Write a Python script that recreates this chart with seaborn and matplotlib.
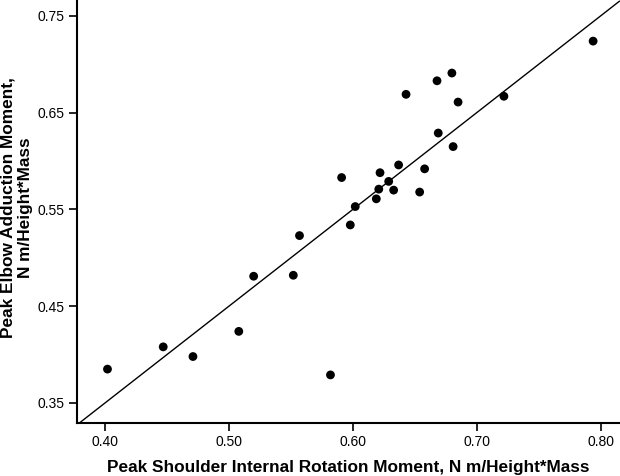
import numpy as np
import pandas as pd
import matplotlib
matplotlib.use("Agg")
import matplotlib.pyplot as plt
import seaborn as sns

shoulder_ir = [0.794, 0.680, 0.668, 0.643, 0.685, 0.722, 0.669, 0.681, 0.591, 0.637,
               0.658, 0.622, 0.629, 0.621, 0.633, 0.654, 0.619, 0.602, 0.598, 0.557,
               0.520, 0.552, 0.508, 0.447, 0.471, 0.402, 0.582]
elbow_add = [0.724, 0.691, 0.683, 0.669, 0.661, 0.667, 0.629, 0.615, 0.583, 0.596,
             0.592, 0.588, 0.579, 0.571, 0.570, 0.568, 0.561, 0.553, 0.534, 0.523,
             0.481, 0.482, 0.424, 0.408, 0.398, 0.385, 0.379]
x_ticks = [0.40, 0.50, 0.60, 0.70, 0.80]
y_ticks = [0.35, 0.45, 0.55, 0.65, 0.75]
fit_intercept = -0.05
fit_slope = 1.0

df = pd.DataFrame({"x": shoulder_ir, "y": elbow_add})

sns.set_style("ticks")
plt.rcParams["font.family"] = ["Liberation Sans", "DejaVu Sans"]

fig = plt.figure(figsize=(6.2, 4.76), dpi=100)
ax = fig.add_axes([77/620, 53/476, 1 - 77/620 - 0.5/620, 1 - 53/476])

sns.scatterplot(data=df, x="x", y="y", ax=ax, s=40, color="black",
                edgecolor="none", linewidth=0, zorder=3)
ax.axline((0, fit_intercept), slope=fit_slope, color="black", linewidth=1.0, zorder=2)

ax.set_xlim(0.3774, 0.8153)
ax.set_ylim(0.3293, 0.7665)
ax.set_xticks(x_ticks)
ax.set_xticklabels([f"{v:.2f}" for v in x_ticks])
ax.set_yticks(y_ticks)
ax.set_yticklabels([f"{v:.2f}" for v in y_ticks])
ax.tick_params(axis="both", labelsize=10, length=6, width=1.2, color="black",
               labelcolor="black", pad=3)
for side in ["top", "right"]:
    ax.spines[side].set_visible(False)
for side in ["left", "bottom"]:
    ax.spines[side].set_color("black")
    ax.spines[side].set_linewidth(1.5)

ax.set_xlabel("Peak Shoulder Internal Rotation Moment, N m/Height*Mass",
              fontsize=12.4, fontweight="bold", color="black")
ax.xaxis.set_label_coords(0.5, -0.088)
ax.set_ylabel("Peak Elbow Adduction Moment,\nN m/Height*Mass",
              fontsize=12.4, fontweight="bold", linespacing=1.2, color="black")
ax.yaxis.set_label_coords(-0.081, 0.51)

fig.savefig("out.png", dpi=100)
